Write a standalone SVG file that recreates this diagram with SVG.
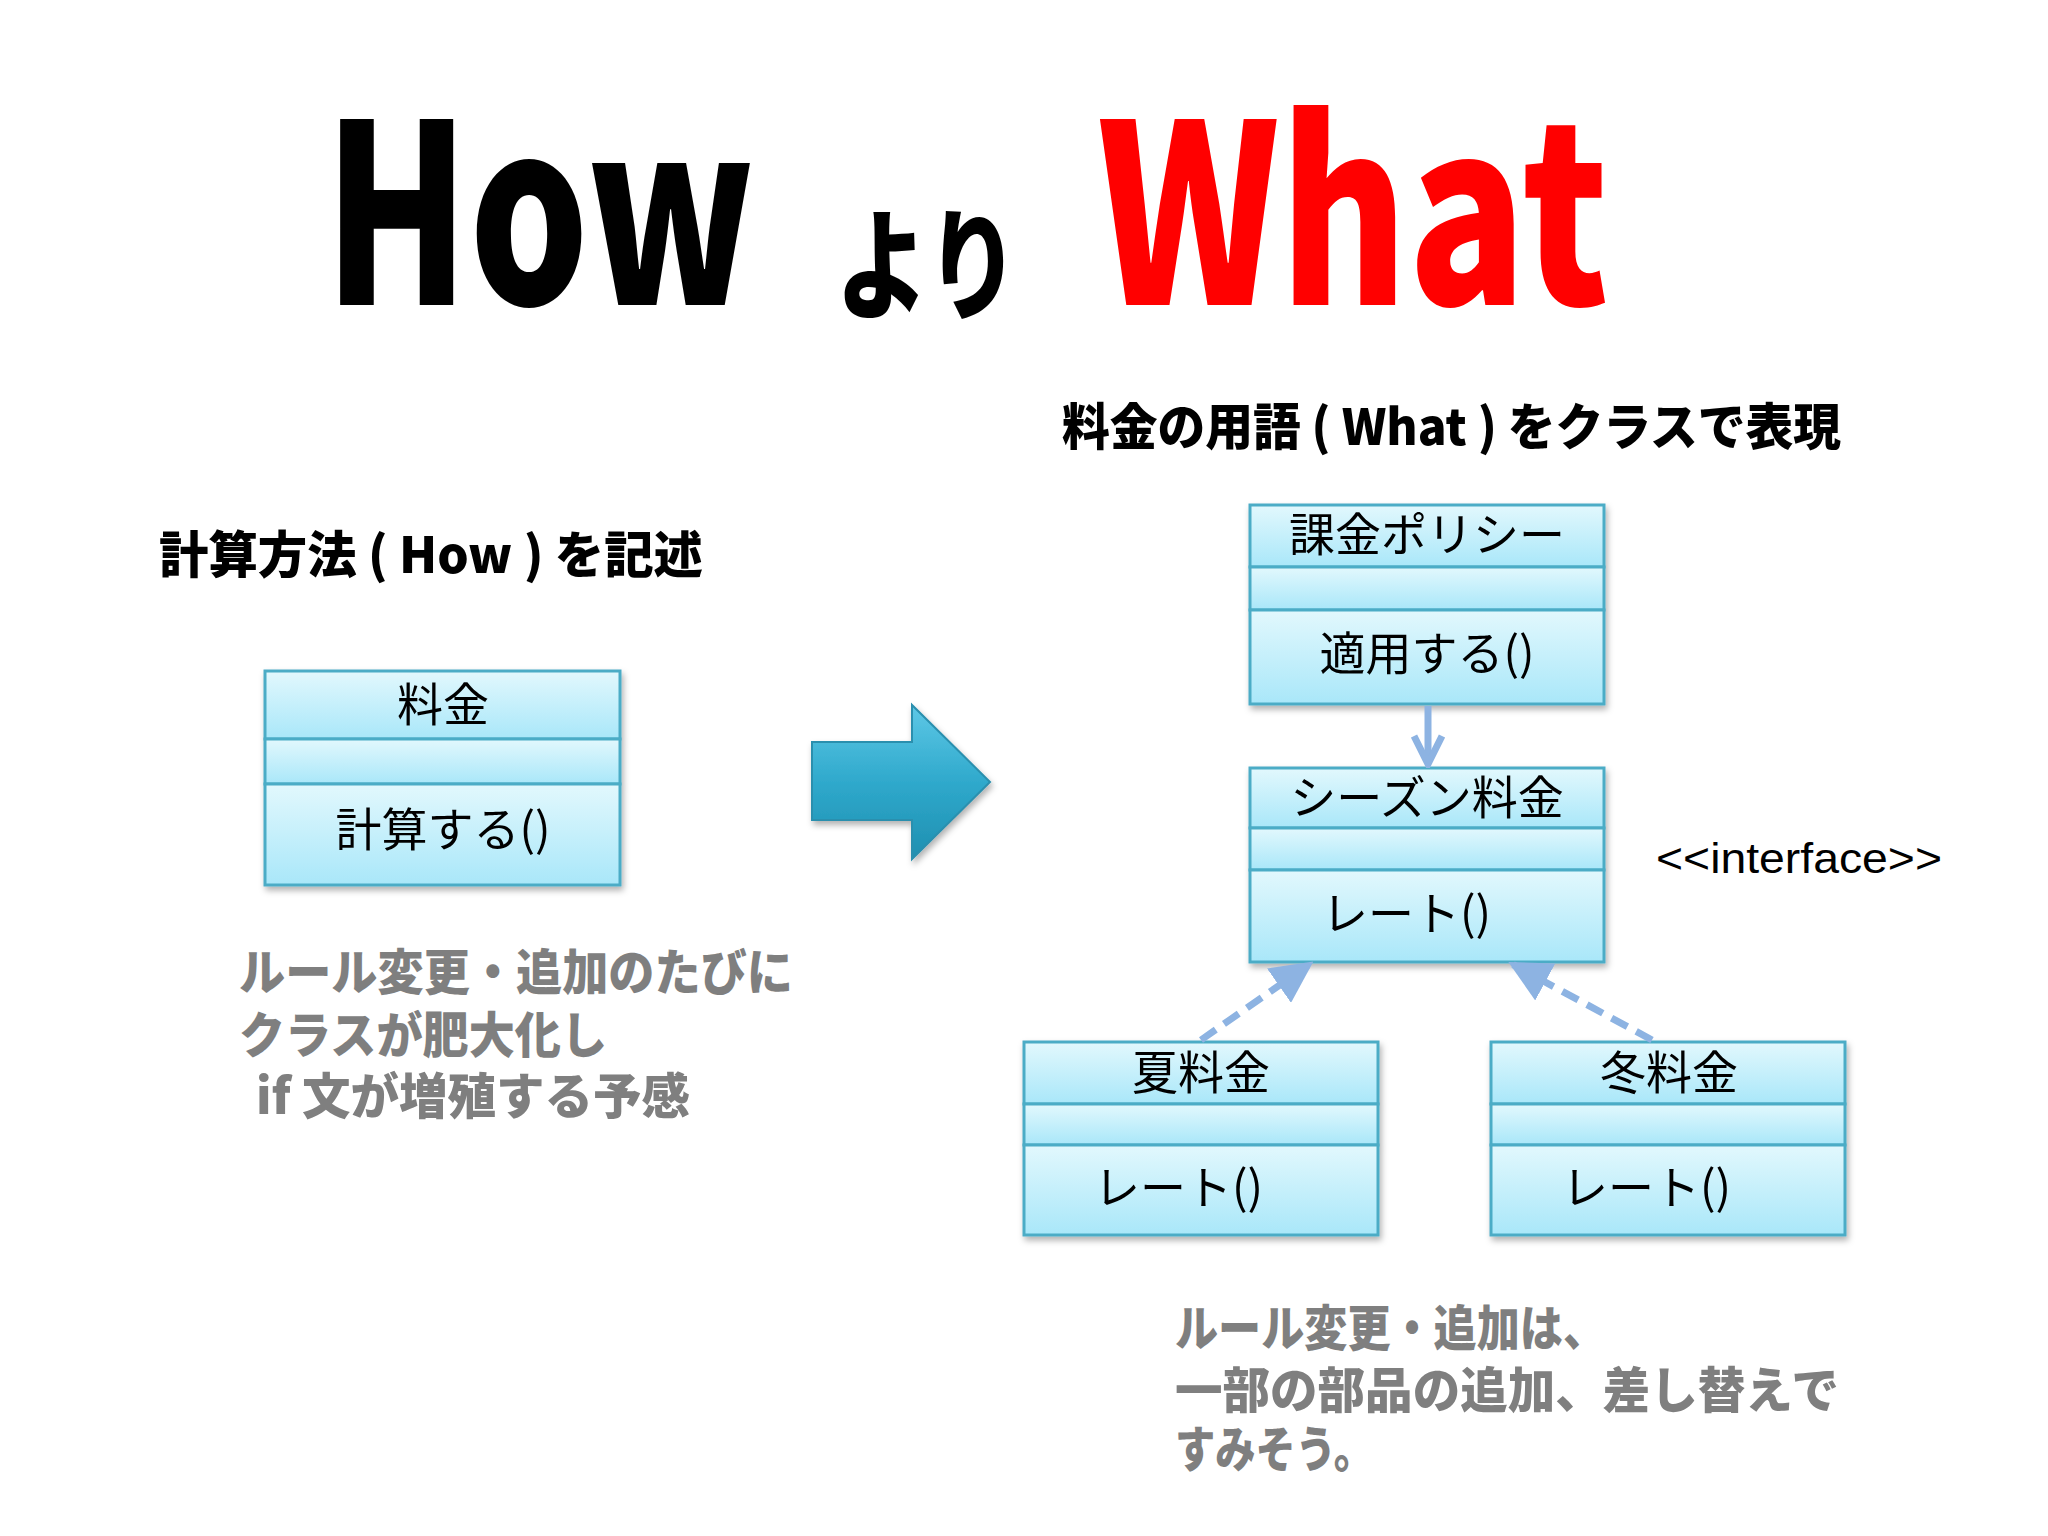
<svg xmlns="http://www.w3.org/2000/svg" width="2048" height="1536" viewBox="0 0 2048 1536">
<defs>
<linearGradient id="g" x1="0" y1="0" x2="0" y2="1"><stop offset="0" stop-color="#e2f8fd"/><stop offset="1" stop-color="#a9e7f9"/></linearGradient>
<linearGradient id="ga" x1="0" y1="0" x2="0" y2="1"><stop offset="0" stop-color="#5ec8e6"/><stop offset="0.5" stop-color="#2fa9cc"/><stop offset="1" stop-color="#1f8fb0"/></linearGradient>
<filter id="sh" x="-5%" y="-5%" width="115%" height="120%"><feDropShadow dx="2" dy="4" stdDeviation="3" flood-color="#000" flood-opacity="0.3"/></filter>
<marker id="open" viewBox="0 0 10 10" refX="9" refY="5" markerWidth="5" markerHeight="5" orient="auto"><path d="M1,1 L9,5 L1,9" fill="none" stroke="#8db3e2" stroke-width="2"/></marker>
<marker id="tri" viewBox="0 0 10 10" refX="9" refY="5" markerWidth="6" markerHeight="6" orient="auto"><path d="M0,0 L10,5 L0,10 z" fill="#8db3e2"/></marker>
</defs>
<style>
.b{fill:url(#g);stroke:#4bacc6;stroke-width:3}
.t{font-family:"Noto Sans CJK JP","Liberation Sans",sans-serif;font-size:46px;fill:#000}
.h{font-family:"Noto Sans CJK JP","Liberation Sans",sans-serif;font-weight:900;font-size:50px;fill:#000}
.gr{font-family:"Noto Sans CJK JP","Liberation Sans",sans-serif;font-weight:900;font-size:49px;fill:#7f7f7f}
</style>
<rect width="2048" height="1536" fill="#fff"/>
<text x="324" y="305" textLength="431" lengthAdjust="spacingAndGlyphs" style="font-family:'Noto Sans CJK JP',sans-serif;font-weight:900;font-size:250px">How</text>
<text x="836" y="310" textLength="183" lengthAdjust="spacingAndGlyphs" style="font-family:'Noto Sans CJK JP',sans-serif;font-weight:900;font-size:120px">より</text>
<text x="1097" y="305" textLength="512" lengthAdjust="spacingAndGlyphs" fill="#ff0000" style="font-family:'Noto Sans CJK JP',sans-serif;font-weight:900;font-size:250px">What</text>
<text class="h" x="1062" y="445" textLength="779" lengthAdjust="spacingAndGlyphs">料金の用語 ( What ) をクラスで表現</text>
<text class="h" x="159" y="573" textLength="544" lengthAdjust="spacingAndGlyphs">計算方法 ( How ) を記述</text>
<g id="ryokin" filter="url(#sh)">
<rect class="b" x="265" y="671" width="355" height="68"/><rect class="b" x="265" y="739" width="355" height="45"/><rect class="b" x="265" y="784" width="355" height="101"/>
<text class="t" x="443" y="721" text-anchor="middle">料金</text>
<text class="t" x="443" y="846" text-anchor="middle">計算する()</text>
</g>
<g id="bigarrow" filter="url(#sh)"><path d="M812,742 H912 V705 L990,782 L912,859 V820 H812 Z" fill="url(#ga)" stroke="#2a8fae" stroke-width="2"/></g>
<g id="note1">
<text class="gr" x="239" y="990" textLength="554" lengthAdjust="spacingAndGlyphs">ルール変更・追加のたびに</text>
<text class="gr" x="239" y="1053" textLength="368" lengthAdjust="spacingAndGlyphs">クラスが肥大化し</text>
<text class="gr" x="256" y="1114" textLength="434" lengthAdjust="spacingAndGlyphs">if 文が増殖する予感</text>
</g>
<g id="policy" filter="url(#sh)">
<rect class="b" x="1250" y="505" width="354" height="62"/><rect class="b" x="1250" y="567" width="354" height="43"/><rect class="b" x="1250" y="610" width="354" height="94"/>
<text class="t" x="1427" y="551" text-anchor="middle">課金ポリシー</text>
<text class="t" x="1427" y="670" text-anchor="middle">適用する()</text>
</g>
<g id="season" filter="url(#sh)">
<rect class="b" x="1250" y="768" width="354" height="60"/><rect class="b" x="1250" y="828" width="354" height="42"/><rect class="b" x="1250" y="870" width="354" height="92"/>
<text class="t" x="1427" y="814" text-anchor="middle">シーズン料金</text>
<text class="t" x="1322" y="930">レート()</text>
</g>
<text x="1656" y="873" textLength="286" lengthAdjust="spacingAndGlyphs" style="font-family:'Liberation Sans',sans-serif;font-size:42px">&lt;&lt;interface&gt;&gt;</text>
<g id="summer" filter="url(#sh)">
<rect class="b" x="1024" y="1042" width="354" height="62"/><rect class="b" x="1024" y="1104" width="354" height="41"/><rect class="b" x="1024" y="1145" width="354" height="90"/>
<text class="t" x="1201" y="1089" text-anchor="middle">夏料金</text>
<text class="t" x="1094" y="1204">レート()</text>
</g>
<g id="winter" filter="url(#sh)">
<rect class="b" x="1491" y="1042" width="354" height="62"/><rect class="b" x="1491" y="1104" width="354" height="41"/><rect class="b" x="1491" y="1145" width="354" height="90"/>
<text class="t" x="1669" y="1089" text-anchor="middle">冬料金</text>
<text class="t" x="1562" y="1204">レート()</text>
</g>
<g id="connectors" stroke="#8db3e2" stroke-width="7" fill="none">
<line x1="1428" y1="706" x2="1428" y2="764" marker-end="url(#open)"/>
<line x1="1201" y1="1040" x2="1310" y2="964" stroke-dasharray="18,10" marker-end="url(#tri)"/>
<line x1="1652" y1="1040" x2="1512" y2="964" stroke-dasharray="18,10" marker-end="url(#tri)"/>
</g>
<g id="note2">
<text class="gr" x="1175" y="1346" textLength="431" lengthAdjust="spacingAndGlyphs">ルール変更・追加は、</text>
<text class="gr" x="1175" y="1408" textLength="664" lengthAdjust="spacingAndGlyphs">一部の部品の追加、差し替えで</text>
<text class="gr" x="1175" y="1467" textLength="199" lengthAdjust="spacingAndGlyphs">すみそう。</text>
</g>
</svg>
